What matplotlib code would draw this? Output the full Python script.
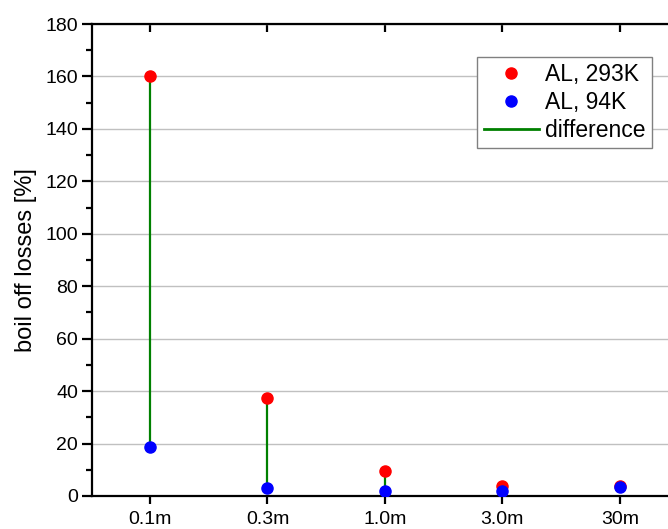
import matplotlib
matplotlib.use("Agg")
import matplotlib.pyplot as plt
import numpy as np
from matplotlib.lines import Line2D
from matplotlib.ticker import MultipleLocator

plt.rcParams['font.family'] = ['Liberation Sans', 'DejaVu Sans']

categories = ["0.1m", "0.3m", "1.0m", "3.0m", "30m"]
al_293k = [160.0, 37.2, 9.7, 3.8, 4.0]
al_94k = [18.6, 3.2, 1.9, 1.8, 3.4]

fig = plt.figure(figsize=(6.68, 5.29), dpi=100)
ax = fig.add_axes([0.1377, 0.0624, 0.8623, 0.8922])

x = np.arange(len(categories))

ax.vlines(x, al_94k, al_293k, color="#008000", linewidth=1.6, zorder=2)
ax.plot(x, al_293k, linestyle="none", marker="o", markersize=8,
        color="#ff0000", zorder=3)
ax.plot(x, al_94k, linestyle="none", marker="o", markersize=8,
        color="#0000ff", zorder=4)

ax.set_xlim(-0.494, 4.41)
ax.set_ylim(0, 180)
ax.set_xticks(x)
ax.set_xticklabels(categories)
ax.yaxis.set_major_locator(MultipleLocator(20))
ax.yaxis.set_minor_locator(MultipleLocator(10))

ax.grid(axis="y", which="major", color="#c0c0c0", linewidth=1.0, zorder=0)
ax.set_axisbelow(True)

for side in ("left", "bottom", "top"):
    ax.spines[side].set_linewidth(1.6)
ax.spines["right"].set_visible(False)

ax.tick_params(axis="y", which="major", direction="out", length=7, width=1.6,
               labelsize=14, pad=3)
ax.tick_params(axis="y", which="minor", direction="out", length=4, width=1.6)
ax.tick_params(axis="x", which="major", direction="out", length=6, width=1.6,
               labelsize=14, top=True, pad=5)
ax.tick_params(axis="x", which="minor", bottom=False, top=False)

# top ticks point inward
for tick in ax.xaxis.get_major_ticks():
    tick.tick2line.set_marker(3)
    tick.tick2line.set_markersize(6)

ax.set_ylabel("boil off losses [%]", fontsize=17, labelpad=6)

handles = [
    Line2D([], [], linestyle="none", marker="o", markersize=8, color="#ff0000"),
    Line2D([], [], linestyle="none", marker="o", markersize=8, color="#0000ff"),
    Line2D([], [], color="#008000", linewidth=2.0),
]
labels = ["AL, 293K", "AL, 94K", "difference"]
leg = ax.legend(handles, labels, loc="upper right",
                bbox_to_anchor=(0.972, 0.930), fontsize=16.5,
                fancybox=False, framealpha=1, edgecolor="#808080",
                handlelength=2.4, handletextpad=0.28, borderpad=0.28,
                labelspacing=0.2, borderaxespad=0.0)
leg.get_frame().set_linewidth(1.0)

fig.savefig("out.png", dpi=100)
